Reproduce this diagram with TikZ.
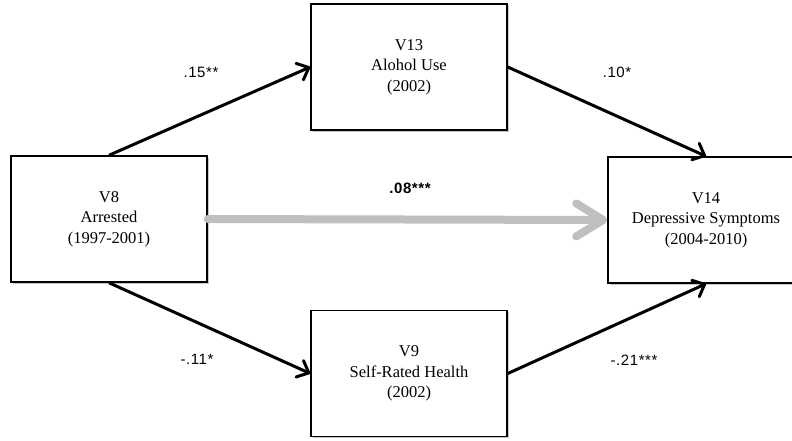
\documentclass[tikz,border=0pt]{standalone}
\usepackage{fontspec}
\setmainfont{Liberation Serif}
\newfontfamily\lblfont[LetterSpace=4]{Liberation Sans}
\usetikzlibrary{arrows.meta,shadows}
\tikzset{
  varbox/.style={draw=black, line width=1.5pt, fill=white, minimum width=196pt, minimum height=126pt,
    inner sep=0pt, align=center, font=\fontsize{16.5pt}{20.5pt}\selectfont,
    drop shadow={shadow xshift=1.5pt, shadow yshift=-1.5pt, opacity=0.22, fill=black}},
  patharrow/.style={draw=black, line width=3pt, -{Straight Barb[length=10pt,width=18pt,round]}},
  directarrow/.style={draw=black!25, line width=8pt, line cap=round, -{Straight Barb[length=27pt,width=33pt,round]}},
  coef/.style={font=\lblfont\fontsize{15pt}{17pt}\selectfont, inner sep=0pt}
}
\begin{document}
\begin{tikzpicture}[x=1pt,y=-1pt]
\useasboundingbox (0,0) rectangle (792,440);
\node[varbox] (v8) at (109,219) {V8\\Arrested\\(1997-2001)};
\node[varbox] (v13) at (409,67) {V13\\Alohol Use\\(2002)};
\node[varbox] (v9) at (409,373.5) {V9\\Self-Rated Health\\(2002)};
\node[varbox] (v14) at (706,220) {V14\\Depressive Symptoms\\(2004-2010)};
\draw[directarrow] (v8.east) -- (v14.west);
\draw[patharrow] (v8.north) -- (v13.west);
\draw[patharrow] (v13.east) -- (v14.north);
\draw[patharrow] (v8.south) -- (v9.west);
\draw[patharrow] (v9.east) -- (v14.south);
\node[coef] (c1) at (201,72) {.15**};
\node[coef] (c2) at (617,72) {.10*};
\node[coef] (c3) at (410,188) {\bfseries .08***};
\node[coef] (c4) at (197,359) {-.11*};
\node[coef] (c5) at (634,360) {-.21***};
\end{tikzpicture}
\end{document}
